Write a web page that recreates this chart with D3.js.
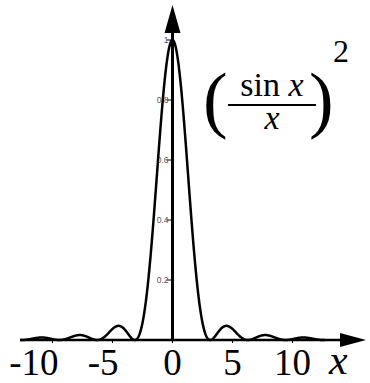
<!DOCTYPE html>
<html>
<head>
<meta charset="utf-8">
<script src="https://cdn.jsdelivr.net/npm/d3@7"></script>
</head>
<body style="margin:0">
<svg id="chart" width="370" height="383" font-family="Liberation Serif"></svg>
<script>
// Curve domain and tick labels
const xDomain = [-12.7, 12.7];
const xTickValues = [-10, -5, 0, 5, 10];
const yTickValues = [0.2, 0.4, 0.6, 0.8, 1];
const yTickLabels = ["0.2", "0.4", "0.6", "0.8", "1"];
const sampleCount = 1200;

const SERIF = "'Liberation Serif'";
const SANS = "'Liberation Sans'";

const svg = d3.select("#chart");
const x = d3.scaleLinear().domain([0, 10]).range([172.5, 292.5]);
const y = d3.scaleLinear().domain([0, 1]).range([340, 40]);

// sampled (sin x / x)^2
const pts = d3.range(sampleCount + 1).map(i => {
  const t = xDomain[0] + (xDomain[1] - xDomain[0]) * i / sampleCount;
  const v = t === 0 ? 1 : Math.pow(Math.sin(t) / t, 2);
  return [t, v];
});

// x axis line + arrow
svg.append("line")
  .attr("x1", x(xDomain[0])).attr("x2", 345)
  .attr("y1", y(0)).attr("y2", y(0))
  .attr("stroke", "#000").attr("stroke-width", 2.5);
svg.append("path")
  .attr("d", `M340,${y(0) - 7}L366,${y(0)}L340,${y(0) + 7}Z`)
  .attr("fill", "#000");

// x ticks
svg.selectAll(".xt").data(xTickValues).enter().append("line")
  .attr("x1", d => x(d)).attr("x2", d => x(d))
  .attr("y1", y(0)).attr("y2", y(0) + 3)
  .attr("stroke", "#000").attr("stroke-width", 1);

// y axis line + arrow
svg.append("line")
  .attr("x1", x(0)).attr("x2", x(0))
  .attr("y1", y(0)).attr("y2", 30)
  .attr("stroke", "#000").attr("stroke-width", 3);
svg.append("path")
  .attr("d", `M${x(0) - 8},33L${x(0)},5L${x(0) + 8},33Z`)
  .attr("fill", "#000");

// y ticks and small labels
svg.selectAll(".yt").data(yTickValues).enter().append("line")
  .attr("x1", x(0) - 6).attr("x2", x(0))
  .attr("y1", d => y(d)).attr("y2", d => y(d))
  .attr("stroke", "#000").attr("stroke-width", 1);
svg.selectAll(".yl").data(yTickValues).enter().append("text")
  .style("font-family", SANS)
  .attr("x", x(0) - 4).attr("y", d => y(d) + 3)
  .attr("text-anchor", "end")
  .style("font-size", "8.5px")
  .attr("fill", "#555")
  .text((d, i) => yTickLabels[i]);

// the curve
svg.append("path")
  .datum(pts)
  .attr("d", d3.line().x(d => x(d[0])).y(d => y(d[1])))
  .attr("fill", "none")
  .attr("stroke", "#000")
  .attr("stroke-width", 2.5)
  .attr("stroke-linejoin", "round");

// x tick labels
svg.selectAll(".xl").data(xTickValues).enter().append("text")
  .style("font-family", SERIF)
  .attr("x", d => d < 0 ? x(d) + 6 : x(d))
  .attr("y", 375)
  .attr("text-anchor", d => d < 0 ? "end" : "middle")
  .style("font-size", "37px")
  .text(d => d < 0 ? "-" + Math.abs(d) : d);

svg.append("text")
  .style("font-family", SERIF)
  .attr("x", 329).attr("y", 374)
  .style("font-style", "italic")
  .style("font-size", "42px")
  .text("x");

// formula (sin x / x)^2
const f = svg.append("g");
f.append("text").style("font-family", SERIF).attr("x", 203).attr("y", 124)
  .style("font-size", "74px").text("(");
f.append("text").style("font-family", SERIF).attr("x", 309).attr("y", 124)
  .style("font-size", "74px").text(")");
const num = f.append("text").style("font-family", SERIF).attr("x", 272).attr("y", 96)
  .attr("text-anchor", "middle")
  .style("font-size", "34px");
num.append("tspan").text("sin ");
num.append("tspan").style("font-style", "italic").text("x");
f.append("line").attr("x1", 228).attr("x2", 316)
  .attr("y1", 105).attr("y2", 105)
  .attr("stroke", "#000").attr("stroke-width", 2);
f.append("text").style("font-family", SERIF).attr("x", 272).attr("y", 129)
  .attr("text-anchor", "middle")
  .style("font-style", "italic").style("font-size", "34px")
  .text("x");
f.append("text").style("font-family", SERIF).attr("x", 333).attr("y", 62)
  .style("font-size", "32px").text("2");
</script>
</body>
</html>
